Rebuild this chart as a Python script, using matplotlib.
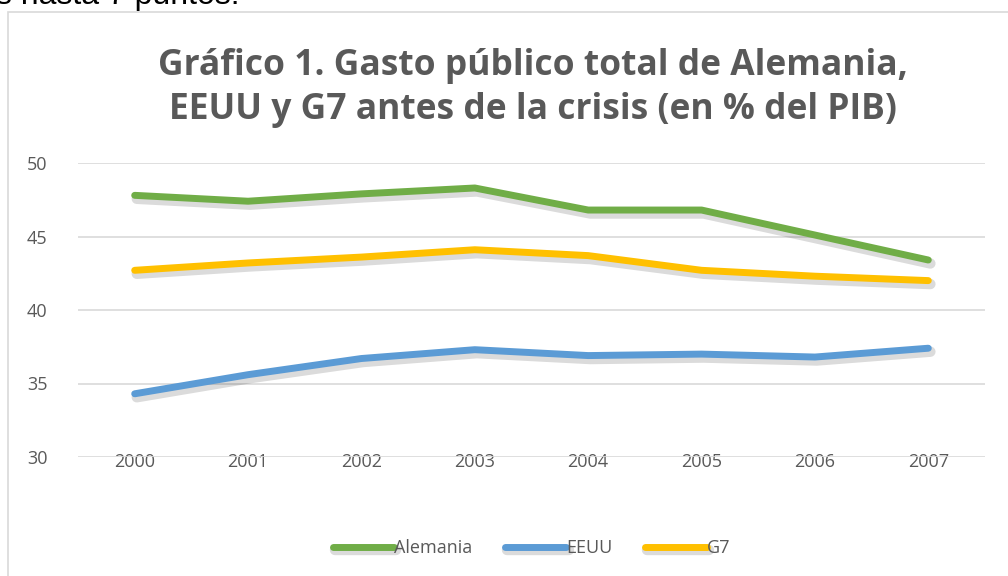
import matplotlib
matplotlib.use("Agg")
import matplotlib.pyplot as plt
import matplotlib.patheffects as pe
from matplotlib.patches import Rectangle

years = ["2000", "2001", "2002", "2003", "2004", "2005", "2006", "2007"]
alemania = [47.8, 47.4, 47.9, 48.3, 46.8, 46.8, 45.1, 43.4]
eeuu = [34.3, 35.6, 36.7, 37.3, 36.9, 37.0, 36.8, 37.4]
g7 = [42.7, 43.2, 43.6, 44.1, 43.7, 42.7, 42.3, 42.0]

series = [("Alemania", alemania, "#70ad47"),
          ("EEUU", eeuu, "#5b9bd5"),
          ("G7", g7, "#ffc000")]

grey = "#595959"
plt.rcParams["font.family"] = ["Open Sans", "DejaVu Sans"]

fig = plt.figure(figsize=(10.08, 5.76), dpi=100)
W, H = 1008, 576

# chart frame, partly outside the picture
fig.patches.append(Rectangle((8 / W, -0.05), 1.1, 1 - 12 / H + 0.05,
                             transform=fig.transFigure, fill=False,
                             edgecolor="#d9d9d9", linewidth=1.2))

# leftover text from the page above (cut at the top, as in the source)
fig.text(-0.004, 1 - 4 / H, "s hasta 7 puntos.", fontsize=23, color="black",
         family=["Liberation Sans"], va="baseline", ha="left")

fig.text(533 / W, 1 - 66 / H, "Gráfico 1. Gasto público total de Alemania,",
         ha="center", va="center", fontsize=25.5, fontweight="bold", color=grey)
fig.text(533 / W, 1 - 110 / H, "EEUU y G7 antes de la crisis (en % del PIB)",
         ha="center", va="center", fontsize=25.5, fontweight="bold", color=grey)

ax = fig.add_axes([78 / W, 1 - 457 / H, (985 - 78) / W, (457 - 163) / H])
x = list(range(len(years)))
for name, vals, col in series:
    ax.plot(x, vals, color=col, linewidth=5, solid_capstyle="round",
            solid_joinstyle="round", label=name,
            path_effects=[pe.SimpleLineShadow(offset=(1.5, -2.5), shadow_color="black",
                                              alpha=0.14, linewidth=7.5),
                          pe.Normal()])

ax.set_xlim(-0.5, 7.5)
ax.set_ylim(30, 50)
ax.set_yticks([30, 35, 40, 45, 50])
ax.set_xticks(x)
ax.set_xticklabels(years)
ax.grid(axis="y", color="#d9d9d9", linewidth=1.2)
ax.set_axisbelow(True)
for s in ax.spines.values():
    s.set_visible(False)
ax.tick_params(length=0, labelsize=13, colors=grey)
ax.tick_params(axis="x", pad=-3)
ax.tick_params(axis="y", pad=22)

leg = ax.legend(loc="center", bbox_to_anchor=(0.5, -0.31), ncol=3, frameon=False,
                fontsize=13, handlelength=3.4, handletextpad=0.0, columnspacing=1.8)
for t in leg.get_texts():
    t.set_color(grey)

fig.savefig("out.png", dpi=100)
